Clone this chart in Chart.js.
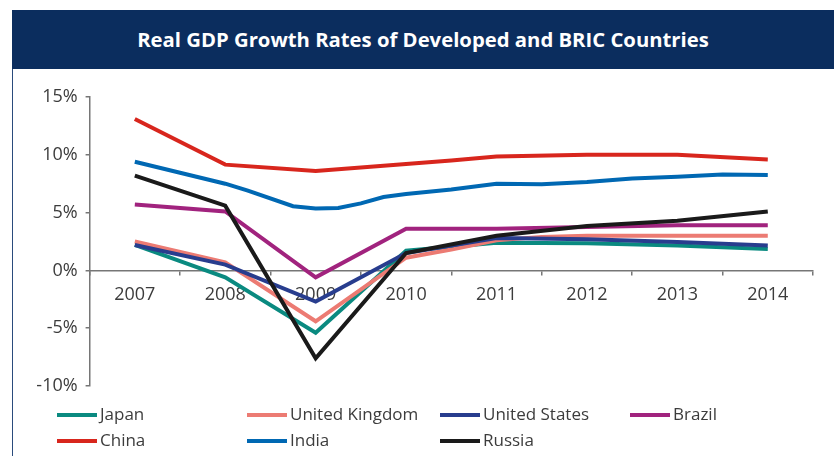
<!DOCTYPE html>
<html>
<head>
<meta charset="utf-8">
<script src="https://cdn.jsdelivr.net/npm/chart.js@4.4.1/dist/chart.umd.min.js"></script>
<style>
  html, body { margin: 0; padding: 0; background: #fff; }
  body { width: 834px; height: 456px; position: relative; overflow: hidden; font-family: "Open Sans", sans-serif; }
  .frame { position: absolute; left: 12px; top: 10px; width: 822px; height: 446px; border-left: 1.5px solid #2a4b7c; box-sizing: border-box; }
  .title { position: absolute; left: 12px; top: 10px; width: 822px; height: 59px; background: #0b2d5e; color: #fff;
           font-weight: 700; font-size: 20.3px; line-height: 58px; text-align: center; }
  .plot { position: absolute; left: 14px; top: 69px; width: 820px; height: 387px; }
</style>
</head>
<body>
<div class="frame"></div>
<div class="title">Real GDP Growth Rates of Developed and BRIC Countries</div>
<div class="plot"><canvas id="gdp"></canvas></div>
<script>
// category labels along the zero line
const years = ["2007", "2008", "2009", "2010", "2011", "2012", "2013", "2014"];
const yMin = -10, yMax = 15, yStep = 5;

// [year, real GDP growth %] — a few series carry intra-year points
const japan = [[2007, 2.2], [2008, -0.6], [2009, -5.4], [2010, 1.7], [2011, 2.4], [2012, 2.35], [2013, 2.15], [2014, 1.85]];
const unitedKingdom = [[2007, 2.5], [2008, 0.7], [2009, -4.4], [2010, 1.1], [2010.5, 1.8], [2011, 2.6], [2011.5, 2.9], [2012, 3.0], [2013, 3.0], [2014, 3.0]];
const unitedStates = [[2007, 2.2], [2008, 0.5], [2009, -2.7], [2010, 1.5], [2011, 2.8], [2012, 2.7], [2013, 2.45], [2014, 2.15]];
const brazil = [[2007, 5.7], [2008, 5.1], [2009, -0.6], [2010, 3.6], [2011, 3.6], [2012, 3.75], [2013, 3.9], [2014, 3.9]];
const china = [[2007, 13.1], [2008, 9.15], [2009, 8.6], [2010, 9.2], [2010.5, 9.5], [2011, 9.85], [2012, 10.0], [2013, 10.0], [2014, 9.6]];
const india = [[2007, 9.4], [2008, 7.5], [2008.25, 6.9], [2008.75, 5.55], [2009, 5.35], [2009.25, 5.4], [2009.5, 5.8], [2009.75, 6.35],
               [2010, 6.6], [2010.5, 7.0], [2011, 7.5], [2011.5, 7.45], [2012, 7.65], [2012.5, 7.95], [2013, 8.1], [2013.5, 8.3], [2014, 8.25]];
const russia = [[2007, 8.2], [2008, 5.6], [2009, -7.6], [2010, 1.5], [2011, 3.0], [2012, 3.85], [2013, 4.3], [2014, 5.1]];

const seriesNames = ["Japan", "United Kingdom", "United States", "Brazil", "China", "India", "Russia"];
const seriesPoints = [japan, unitedKingdom, unitedStates, brazil, china, india, russia];
const seriesColours = ["#0a8a80", "#ec7b73", "#283d8e", "#a1237e", "#d8261d", "#0068b3", "#1a1a1a"];

const FONT = "'Open Sans', sans-serif";
const AXIS = "#767676";
const TEXT = "#3c3c3c";

const datasets = seriesNames.map((name, i) => ({
  label: name,
  data: seriesPoints[i].map(([x, y]) => ({ x, y })),
  borderColor: seriesColours[i],
  backgroundColor: seriesColours[i],
  borderWidth: 4,
  pointRadius: 0,
  tension: 0,
  xAxisID: "xv",
  yAxisID: "y",
  order: seriesNames.length - i, // later series sit on top
}));

// two-row, four-column key under the plot
const keyGrid = {
  id: "keyGrid",
  afterDraw(chart) {
    const ctx = chart.ctx;
    const colX = [43, 233, 426, 616];
    const rowY = [346, 372];
    ctx.save();
    ctx.font = "17px " + FONT;
    ctx.textBaseline = "middle";
    ctx.textAlign = "left";
    chart.data.datasets.forEach((ds, i) => {
      const x = colX[i % 4], y = rowY[Math.floor(i / 4)];
      ctx.strokeStyle = ds.borderColor;
      ctx.lineWidth = 4;
      ctx.beginPath();
      ctx.moveTo(x, y);
      ctx.lineTo(x + 40, y);
      ctx.stroke();
      ctx.fillStyle = TEXT;
      ctx.fillText(ds.label, x + 43, y);
    });
    ctx.restore();
  },
};

new Chart(document.getElementById("gdp"), {
  type: "line",
  data: { datasets },
  plugins: [keyGrid],
  options: {
    responsive: true,
    maintainAspectRatio: false,
    animation: false,
    layout: { padding: { top: 28, right: 21, bottom: 70, left: 0 } },
    plugins: { legend: { display: false }, tooltip: { enabled: false } },
    scales: {
      x: {
        type: "category",
        labels: years,
        offset: true,
        position: { y: 0 },
        grid: { display: true, drawOnChartArea: false, offset: true, tickLength: 4, color: AXIS, lineWidth: 1.5 },
        border: { display: true, color: AXIS, width: 1.5 },
        ticks: { color: TEXT, font: { family: FONT, size: 18 }, padding: 10, maxRotation: 0, autoSkip: false },
        afterFit: (s) => { s.height = 0; },
      },
      xv: { type: "linear", axis: "x", display: false, min: 2006.5, max: 2014.5 },
      y: {
        type: "linear",
        min: yMin,
        max: yMax,
        ticks: { stepSize: yStep, callback: (v) => v + "%", color: TEXT, font: { family: FONT, size: 18 }, padding: 8 },
        grid: { drawOnChartArea: false, tickLength: 4, color: AXIS, lineWidth: 1.5 },
        border: { color: AXIS, width: 1.5 },
        afterFit: (s) => { s.width = 75.6; },
      },
    },
  },
});
</script>
</body>
</html>
